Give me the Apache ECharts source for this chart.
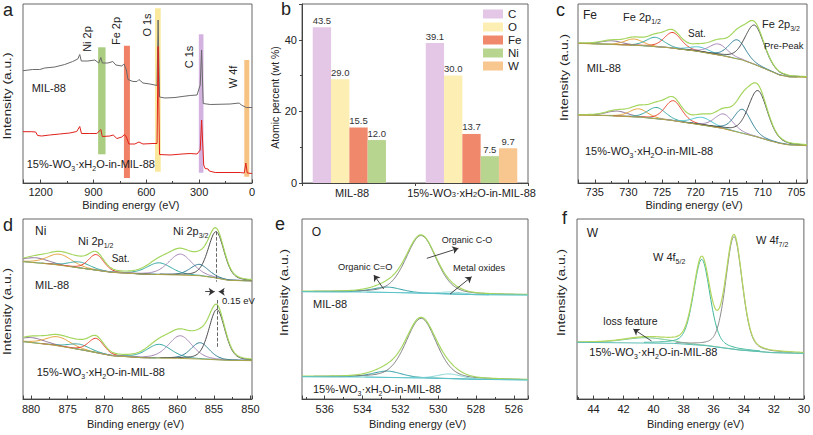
<!DOCTYPE html>
<html>
<head>
<meta charset="utf-8">
<title>XPS figure</title>
<script src="https://cdn.jsdelivr.net/npm/echarts@6/dist/echarts.min.js"></script>
<style>
html,body{margin:0;padding:0;background:#fff;}
#chart{width:813px;height:435px;}
</style>
</head>
<body>
<div id="chart"></div>
<script>
// ===== Panel a: XPS survey spectra [binding energy (eV), intensity (a.u.)] =====
const surveyMil = [[1300,112.3],[1245,113.5],[1205,113.5],[1177,115],[1120,116],[1063,118.5],[1018,121.5],[989,124],[978,128.5],[969,122],[932,122],[892,123],[870,120],[858,125.5],[850,120],[818,120],[790,121.5],[773,118],[739,117],[727,119],[713,113],[704,103.5],[676,101.5],[653,101.5],[642,103.5],[619,100],[580,99],[551,98],[539,97.5],[533,163],[525,86],[494,85],[437,85.5],[397,86.5],[351,87.5],[312,88],[294,98],[286,133],[277,79.5],[237,78.5],[124,79],[72,80],[61,78],[32,75.5],[0,75.5]];
const surveyWo = [[1300,51.3],[1253,51.3],[1228,51],[1217,47.5],[1194,47],[1149,48],[1092,49],[1035,50],[995,51.5],[978,56.5],[968,49.5],[921,49.5],[881,49.5],[858,53.5],[850,46.5],[807,47],[788,48],[767,44.5],[739,46],[724,48.5],[713,46],[699,39],[665,39],[642,41],[619,39],[562,39.5],[539,39.5],[533,136.5],[525,28.5],[465,28],[397,29],[351,29.5],[312,29],[294,33],[286,63],[274,18],[266,14.5],[249,14],[243,12],[209,10.5],[67,10.5],[44,10],[35,20],[27,10],[0,9.5]];
const surveyBandNames = ['Ni 2p','Fe 2p','O 1s','C 1s','W 4f'];
const surveyBandHighEV = [873.6, 727, 550.7, 301.8, 43.8];
const surveyBandLowEV = [831.4, 693, 518.2, 275.6, 15.4];
const surveyBandBottom = [28.7, 5, 11.3, 10.3, 6.3];
const surveyBandTop = [135.7, 137.3, 174.7, 148.7, 123];
const surveyTicks = [1200, 900, 600, 300, 0];

// ===== Panel b: composition (wt %) =====
const elements = ['C','O','Fe','Ni','W'];
const samples = ['MIL-88','15%-WO3·xH2O-in-MIL-88'];
const milPercent = [43.5, 29.0, 15.5, 12.0, null];
const woPercent = [39.1, 30.0, 13.7, 7.5, 9.7];
const percentTicks = [0, 20, 40];

// ===== Panel c: Fe 2p =====
const feBgEnergy = [737.5,733,728,724,720,716,713,711,709,707.5,706,703.4];
const feBgMil = [42.0,41.7,41.3,40.7,39.7,38.3,37.0,35.5,33.8,32.5,31.9,31.8];
const feBgWo = [20.5,20.3,19.8,19.0,17.8,16.5,15.0,14.0,12.8,12.0,11.5,11.3];
const fePeakEnergyMil = [732.5,729.2,726.0,723.4,719.4,716.6,713.8,711.2];
const fePeakHeightMil = [1.1,1.9,2.8,4.7,1.4,3.3,5.7,11.8];
const fePeakEnergyWo = [731.7,728.5,725.8,723.3,719.0,715.8,713.0,710.7];
const fePeakHeightWo = [1.5,2.5,3.4,6.0,2.3,4.4,7.2,14.0];
const fePeakFwhm = [3.8,3.2,3.2,3.0,3.5,3.2,3.0,3.4];

// ===== Panel d: Ni 2p =====
const niBgEnergy = [881.1,877,873,869,865,860,857,855,853,849.8];
const niBgMil = [41.3,40.5,39.3,38.1,37.6,37.3,37.1,36.5,35.7,35.5];
const niBgWo = [17.3,16.3,14.8,13.1,12.5,12.3,12.1,11.9,11.7,11.6];
const niPeakEnergyMil = [879.3,876.1,873.4,871.1,862.5,859.6,857.0,854.7];
const niPeakHeightMil = [1.5,3.3,1.8,4.7,3.5,6.3,3.4,13.9];
const niPeakEnergyWo = [879.8,876.3,873.4,871.1,862.5,859.6,856.9,854.6];
const niPeakHeightWo = [1.5,2.7,1.6,4.3,4.1,6.8,4.9,15.1];
const niPeakFwhm = [4.0,4.0,3.5,2.5,4.0,3.8,3.0,2.6];
const niGuideTop = [50.3, 29.8];
const niGuideBottom = [35.3, 15.3];
const niShiftArrowY = 32.3;
const niShiftArrowFrom = [856.2, 853.6];
const niShiftArrowTo = [854.9, 854.35];

// ===== Panel e: O 1s =====
const oBgEnergy = [537.2,534,532,530,528,525.25];
const oBgMil = [32.5,32.4,32.2,31.9,31.6,31.5];
const oBgWo = [7.0,6.9,6.7,6.5,6.2,6.0];
const oPeakNames = ['Organic C=O','Organic C-O','Metal oxides'];
const oPeakEnergyMil = [532.7,530.9,529.3];
const oPeakHeightMil = [1.6,17.3,0.6];
const oPeakEnergyWo = [532.7,530.9,529.4];
const oPeakHeightWo = [1.9,17.9,1.4];
const oPeakFwhm = [1.8,1.9,1.5];
const oArrowFrom = [[532.88,33.3],[530.60,42.5],[529.37,31.8]];
const oArrowTo = [[533.40,37.5],[528.93,45.5],[528.23,37.0]];

// ===== Panel f: W 4f =====
const wBgEnergy = [45.1,38.7,36.5,34.3,32.1,30];
const wBg = [17.1,16.8,16.1,14.8,14.0,13.8];
const wPeakEnergy = [40.5,36.8,34.65];
const wPeakHeight = [1.6,25.8,33.8];
const wPeakFwhm = [3.5,1.3,1.3];
const wArrowFrom = [40.14,17.5];
const wArrowTo = [41.35,21.1];

// ===== styles =====
const FONT = "'Liberation Sans', Arial, Helvetica, sans-serif";
const TXT = '#222';
const AX = '#444';
const bandColors = ['#9CC46B','#EF6B4B','#F9E58C','#CBA4DA','#F4B96C'];
const elementColors = ['#E4C6E6','#FDEEB3','#F0886C','#B8D590','#F8C68F'];
const feColors = ['#8C6F96','#E5A23C','#35A8A2','#EA3F2A','#49C2CF','#A685B8','#2F7E95','#4A4A4A'];
const niColors = ['#8C6F96','#E5A23C','#35A8A2','#EA3F2A','#35A8A2','#A685B8','#2F7E95','#4A4A4A'];
const oColors = ['#2E9FA5','#7A7A7A','#86D6D6'];
const wColors = ['#6CC28C','#3DB89A','#8C8C8C'];
const ENV = '#A4D65E';
const OLIVE = '#ADA54A';

const sub = s => s.replace('WO3','WO{s|3}').replace('H2O','H{s|2}O');

function interp(xs, ys, x) {
  const pts = xs.map((v,i)=>[v,ys[i]]).sort((p,q)=>p[0]-q[0]);
  if (x <= pts[0][0]) return pts[0][1];
  for (let i=1;i<pts.length;i++) {
    if (x <= pts[i][0]) { const [x0,y0]=pts[i-1],[x1,y1]=pts[i]; return y0+(y1-y0)*(x-x0)/(x1-x0); }
  }
  return pts[pts.length-1][1];
}
// pseudo-Voigt line shape for fitted component (centre, height, FWHM)
function profile(x, c, h, w) {
  const d = (x - c) / (w / 2);
  return h * (0.7 * Math.exp(-Math.LN2 * d * d) + 0.3 / (1 + d * d));
}
function line(g, data, color, width, z) {
  return {type:'line', xAxisIndex:g, yAxisIndex:g, data, showSymbol:false, symbol:'none',
    lineStyle:{color, width}, z, silent:true, animation:false};
}
function buildFit(g, lo, hi, bgE, bgI, cs, hs, ws, colors, bgColor, envColor) {
  const n = 400, step = (hi-lo)/n, xs = [];
  for (let k=0;k<=n;k++) xs.push(lo+k*step);
  const out = [];
  cs.forEach((c,i)=>{
    const pts = xs.filter(x=>Math.abs(x-c)<=3*ws[i]).concat([c]).sort((a,b)=>a-b)
      .map(x=>[x, interp(bgE,bgI,x)+profile(x,c,hs[i],ws[i])]);
    out.push(line(g, pts, colors[i], 1, 2));
  });
  const env = xs.map(x=>[x, interp(bgE,bgI,x)+cs.reduce((s,c,i)=>s+profile(x,c,hs[i],ws[i]),0)]);
  out.push(line(g, env, envColor, 1.2, 3));
  out.push(line(g, bgE.map((e,i)=>[e,bgI[i]]), bgColor, 1, 4));
  return out;
}
function arrowLines(g, froms, tos, dashed) {
  return {type:'line', xAxisIndex:g, yAxisIndex:g, data:[], silent:true, z:6,
    markLine:{silent:true, animation:false, symbol:['none','arrow'], symbolSize:6,
      label:{show:false}, lineStyle:{color:'#333', width:0.9, type: dashed ? 'dashed':'solid'},
      data: froms.map((f,i)=>[{coord:f},{coord:tos[i]}])}};
}
function energyX(g, min, max, step, extra) {
  return Object.assign({type:'value', gridIndex:g, min, max, inverse:true,
    axisLine:{show:true, onZero:false, lineStyle:{color:AX, width:1}},
    axisTick:{show:true, inside:true, length:3.5, lineStyle:{color:AX}},
    minorTick:{show:true, inside:true, splitNumber:2, length:2, lineStyle:{color:AX}},
    axisLabel:{fontSize:11, color:TXT, fontFamily:FONT, margin:g<3?3:4,
      formatter: v => (Math.abs(v/step - Math.round(v/step)) < 1e-6 ? String(Math.round(v)) : '')},
    splitLine:{show:false}}, extra||{});
}
function hiddenY(g, min, max) {
  return {type:'value', gridIndex:g, min, max, axisLine:{show:false}, axisTick:{show:false},
    axisLabel:{show:false}, splitLine:{show:false}};
}
function txt(x, y, text, size, extra) {
  return Object.assign({type:'text', x, y, silent:true, z:100,
    style:{text, fontSize:size, fontFamily:FONT, fill:TXT, align:'left', verticalAlign:'middle',
      lineHeight:Math.round(size*1.4),
      rich:{s:{fontSize:Math.round(size*0.68), verticalAlign:'bottom', fontFamily:FONT, fill:TXT}}}}, extra||{});
}
function ctxt(x, y, text, size) {
  return {type:'text', x, y, silent:true, z:100,
    style:{text, fontSize:size, fontFamily:FONT, fill:TXT, align:'center', verticalAlign:'middle'}};
}
function vtxt(x, y, text, size, stretch) {
  return {type:'text', x, y, rotation:Math.PI/2, scaleX:stretch||1, silent:true, z:100,
    style:{text, fontSize:size, fontFamily:FONT, fill:TXT, align:'center', verticalAlign:'middle'}};
}

// ===== series =====
const series = [];
// a
series.push({type:'custom', xAxisIndex:0, yAxisIndex:0, z:1, silent:true, animation:false,
  data: surveyBandNames.map((n,i)=>[surveyBandHighEV[i], surveyBandLowEV[i], surveyBandBottom[i], surveyBandTop[i], i]),
  encode:{x:[0,1], y:[2,3]},
  renderItem(params, api) {
    const p1 = api.coord([api.value(0), api.value(3)]);
    const p2 = api.coord([api.value(1), api.value(2)]);
    return {type:'rect', shape:{x:Math.min(p1[0],p2[0]), y:Math.min(p1[1],p2[1]),
      width:Math.abs(p2[0]-p1[0]), height:Math.abs(p2[1]-p1[1])},
      style:{fill:bandColors[api.value(4)], opacity:0.85}};
  }});
series.push(line(0, surveyMil, '#6A6A6A', 1, 3));
series.push(line(0, surveyWo, '#E0221C', 1, 3));
// b
elements.forEach((el,i)=>{
  series.push({type:'bar', name:el, xAxisIndex:1, yAxisIndex:1, data:[milPercent[i], woPercent[i]],
    barWidth:18.3, barGap:'0%', animation:false, itemStyle:{color:elementColors[i]},
    label:{show:true, position:'top', distance:2, fontSize:9.5, color:'#333', fontFamily:FONT,
      formatter: p => (p.value == null ? '' : p.value.toFixed(1))}});
});
// c
series.push(...buildFit(2, 703.4, 737.5, feBgEnergy, feBgMil, fePeakEnergyMil, fePeakHeightMil, fePeakFwhm, feColors, OLIVE, ENV));
series.push(...buildFit(2, 703.4, 737.5, feBgEnergy, feBgWo, fePeakEnergyWo, fePeakHeightWo, fePeakFwhm, feColors, OLIVE, ENV));
// d
series.push(...buildFit(3, 849.8, 881.1, niBgEnergy, niBgMil, niPeakEnergyMil, niPeakHeightMil, niPeakFwhm, niColors, OLIVE, ENV));
series.push(...buildFit(3, 849.8, 881.1, niBgEnergy, niBgWo, niPeakEnergyWo, niPeakHeightWo, niPeakFwhm, niColors, OLIVE, ENV));
series.push({type:'line', xAxisIndex:3, yAxisIndex:3, data:[], silent:true, z:6,
  markLine:{silent:true, animation:false, symbol:['none','none'], label:{show:false},
    lineStyle:{color:'#555', width:0.9, type:'dashed'},
    data:[[{coord:[niPeakEnergyMil[7], niGuideTop[0]]},{coord:[niPeakEnergyMil[7], niGuideBottom[0]]}],
          [{coord:[niPeakEnergyWo[7], niGuideTop[1]]},{coord:[niPeakEnergyWo[7], niGuideBottom[1]]}]]}});
series.push(arrowLines(3, niShiftArrowFrom.map(x=>[x,niShiftArrowY]), niShiftArrowTo.map(x=>[x,niShiftArrowY])));
// e
series.push(...buildFit(4, 525.25, 537.2, oBgEnergy, oBgMil, oPeakEnergyMil, oPeakHeightMil, oPeakFwhm, oColors, '#5BC3C9', ENV));
series.push(...buildFit(4, 525.25, 537.2, oBgEnergy, oBgWo, oPeakEnergyWo, oPeakHeightWo, oPeakFwhm, oColors, '#5BC3C9', ENV));
series.push(arrowLines(4, oArrowFrom, oArrowTo));
// f
series.push(...buildFit(5, 30, 45.1, wBgEnergy, wBg, wPeakEnergy, wPeakHeight, wPeakFwhm, wColors, '#5DBDB5', '#B4D65E'));
series.push(arrowLines(5, [wArrowFrom], [wArrowTo]));

const gridBase = {show:true, borderColor:'#666', borderWidth:1, backgroundColor:'transparent'};
const option = {
  backgroundColor:'#ffffff',
  animation:false,
  textStyle:{fontFamily:FONT},
  grid:[
    {left:23, top:4, width:229, height:179},
    {left:302, top:4, width:226, height:179},
    {left:578, top:4, width:229, height:179},
    {left:23, top:219, width:229, height:180},
    {left:302, top:219, width:226, height:180},
    {left:577, top:219, width:228, height:180}
  ].map(g=>Object.assign(g, gridBase)),
  legend:{data:elements, orient:'vertical', left:483, top:8, itemWidth:20, itemHeight:9, itemGap:1,
    icon:'rect', padding:0, selectedMode:false,
    textStyle:{fontSize:11.5, fontFamily:FONT, color:TXT, lineHeight:10.5}},
  xAxis:[
    energyX(0, 0, 1300, 300, {interval:300}),
    {type:'category', gridIndex:1, data:samples,
      axisLine:{lineStyle:{color:AX}}, axisTick:{show:true, inside:false, length:3, lineStyle:{color:AX}},
      axisLabel:{interval:0, fontSize:11, color:TXT, fontFamily:FONT, margin:4,
        formatter: (v, i) => (i === 0 ? '{m|' + v + '}' : sub(v)),
        rich:{s:{fontSize:7.5, verticalAlign:'bottom', fontFamily:FONT, color:TXT},
              m:{fontSize:11, fontFamily:FONT, color:TXT, padding:[0,13,0,0]}}}},
    energyX(2, 703.4, 737.5, 5),
    energyX(3, 849.8, 881.1, 5),
    energyX(4, 525.25, 537.2, 2),
    energyX(5, 30, 45.1, 2, {interval:2})
  ],
  yAxis:[
    hiddenY(0, 0, 179),
    {type:'value', gridIndex:1, min:0, max:50, interval:20,
      axisLine:{show:true, lineStyle:{color:AX}},
      axisTick:{show:true, inside:false, length:3, lineStyle:{color:AX}},
      minorTick:{show:true, splitNumber:2, length:2, lineStyle:{color:AX}},
      axisLabel:{fontSize:11, color:TXT, fontFamily:FONT, margin:5,
        formatter: v => (percentTicks.indexOf(v) >= 0 ? String(v) : '')},
      splitLine:{show:false}},
    hiddenY(2, 0.1, 53.8),
    hiddenY(3, 0.1, 54.1),
    hiddenY(4, 0.3, 54.3),
    hiddenY(5, 0.1, 54.1)
  ],
  series,
  graphic:[
    // panel letters
    txt(3, 10, 'a', 18), txt(281, 9, 'b', 18), txt(556, 9.5, 'c', 18),
    txt(3, 225, 'd', 18), txt(275, 223.5, 'e', 18), txt(562, 218, 'f', 18),
    // axis titles
    vtxt(7.5, 96, 'Intensity (a.u.)', 11, 1.25),
    vtxt(274.5, 97.5, 'Atomic percent (wt %)', 10.5, 1),
    vtxt(564, 77.5, 'Intensity (a.u.)', 11, 1.25),
    vtxt(7.5, 311.5, 'Intensity (a.u.)', 11, 1.25),
    vtxt(284, 292.5, 'Intensity (a.u.)', 11, 1.25),
    vtxt(561, 292.5, 'Intensity (a.u.)', 11, 1.25),
    ctxt(130.8, 205, 'Binding energy (eV)', 11),
    ctxt(694, 205, 'Binding energy (eV)', 11),
    ctxt(135.5, 423.5, 'Binding energy (eV)', 11),
    ctxt(417.5, 423.5, 'Binding energy (eV)', 11),
    ctxt(695.5, 423.5, 'Binding energy (eV)', 11),
    // panel a labels
    vtxt(87.3, 39, surveyBandNames[0], 11), vtxt(115.7, 31, surveyBandNames[1], 11),
    vtxt(146.7, 25, surveyBandNames[2], 11), vtxt(189.3, 57, surveyBandNames[3], 11),
    vtxt(233.3, 77, surveyBandNames[4], 11),
    txt(31.7, 88, samples[0], 11), txt(26.7, 164.3, sub(samples[1]), 11),
    // panel c labels
    txt(583, 15, 'Fe', 12), txt(623, 17, 'Fe 2p{s|1/2}', 11), txt(688, 33, 'Sat.', 10),
    txt(762, 24, 'Fe 2p{s|3/2}', 11), txt(764, 45, 'Pre-Peak', 9.5),
    txt(586.7, 67.5, samples[0], 11), txt(585, 151, sub(samples[1]), 11),
    // panel d labels
    txt(35, 231, 'Ni', 12), txt(78, 241, 'Ni 2p{s|1/2}', 11), txt(111.7, 258, 'Sat.', 10),
    txt(173, 231, 'Ni 2p{s|3/2}', 11), txt(222, 300, '0.15 eV', 9.5),
    txt(35, 285, samples[0], 11), txt(36.7, 372, sub(samples[1]), 11),
    // panel e labels
    txt(311.7, 232, 'O', 12), txt(441.7, 240, oPeakNames[1], 9),
    txt(338, 266.7, oPeakNames[0], 9.3), txt(453, 268.3, oPeakNames[2], 9.3),
    txt(313, 303.5, samples[0], 11), txt(313, 389, sub(samples[1]), 11),
    // panel f labels
    txt(586.7, 233.3, 'W', 12), txt(653, 257, 'W 4f{s|5/2}', 11), txt(756, 240, 'W 4f{s|7/2}', 11),
    txt(603.3, 321, 'loss feature', 10.5), txt(589.3, 352, sub(samples[1]), 11)
  ]
};
const chart = echarts.init(document.getElementById('chart'), null, {renderer:'svg'});
chart.setOption(option);
</script>
</body>
</html>
